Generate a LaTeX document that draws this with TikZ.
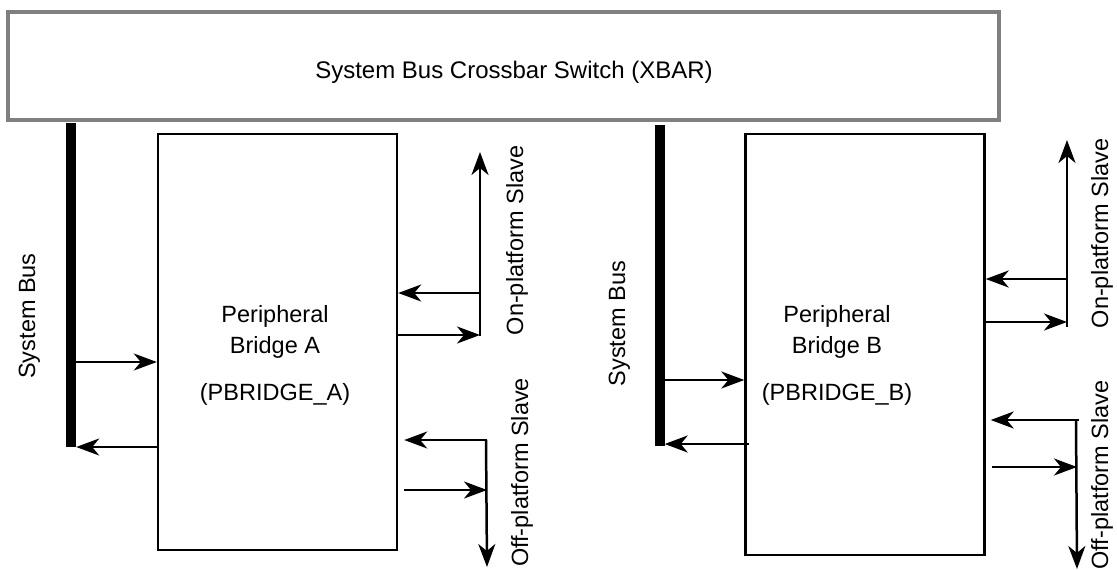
\documentclass[tikz,border=0pt]{standalone}
\usepackage{fontspec}
\setmainfont{Liberation Sans}
\usetikzlibrary{arrows.meta}
\begin{document}
\begin{tikzpicture}[x=1pt,y=-1pt,
  >={Stealth[length=23pt,width=17pt,inset=7pt]},
  lbl/.style={font=\fontsize{23.5}{28}\selectfont, inner sep=0pt, anchor=base},
  vlbl/.style={lbl, rotate=90},
  bridge/.style={draw, line width=2.4pt, minimum width=239pt, inner sep=0pt},
  bus/.style={fill=black, inner sep=0pt, minimum width=10pt},
  arr/.style={line width=2.5pt, ->}]
\useasboundingbox (0,0) rectangle (1117,570);
% crossbar
\node[draw=black!50, line width=4pt, minimum width=991pt, minimum height=108pt, inner sep=0pt] (xbar) at (503.5,66) {};
\node[lbl, font=\fontsize{24}{28}\selectfont] (xbart) at (514,78) {System Bus Crossbar Switch (XBAR)};
% buses
\node[bus, minimum height=324pt] (busA) at (71,285) {};
\node[bus, minimum height=321pt] (busB) at (659.5,285.5) {};
\node[vlbl] (busAl) at (35,316) {System Bus};
\node[vlbl] (busBl) at (625,323.5) {System Bus};
% bridges
\node[bridge, minimum height=416pt] (boxA) at (277.5,342) {};
\node[bridge, minimum height=421pt] (boxB) at (865,344.5) {};
\node[lbl] (a1) at (275,322) {Peripheral};
\node[lbl] (a2) at (275,353) {Bridge A};
\node[lbl] (a3) at (275,400) {(PBRIDGE\_A)};
\node[lbl] (b1) at (837,322) {Peripheral};
\node[lbl] (b2) at (837,353) {Bridge B};
\node[lbl] (b3) at (837,400) {(PBRIDGE\_B)};
% slave labels
\node[vlbl] (onA) at (523,240.5) {On-platform Slave};
\node[vlbl] (offA) at (528,472.5) {Off-platform Slave};
\node[vlbl] (onB) at (1108,233.5) {On-platform Slave};
\node[vlbl] (offB) at (1108,475) {Off-platform Slave};
% coordinates
\coordinate (onAtop) at (480,152);
\coordinate (onAbot) at (480,336);
\coordinate (offAtop) at (487,440);
\coordinate (offAbot) at (487,567);
\coordinate (onBtop) at (1067,140);
\coordinate (onBbot) at (1067,327);
\coordinate (offBtop) at (1077,420);
\coordinate (offBbot) at (1077,569);
% bus A arrows
\draw[arr] (busA.east |- 0,362) -- (boxA.west |- 0,362);
\draw[arr] (boxA.west |- 0,447) -- (busA.east |- 0,447);
% bus B arrows
\draw[arr] (busB.east |- 0,380) -- (boxB.west |- 0,380);
\draw[arr] ([xshift=5pt]boxB.west |- 0,444) -- (busB.east |- 0,444);
% on-platform A
\draw[arr] (onAbot) -- (onAtop);
\draw[arr] (onAbot |- 0,293) -- (boxA.east |- 0,293);
\draw[arr] (boxA.east |- 0,335) -- (onAbot |- 0,335);
% off-platform A
\draw[arr] ([xshift=-1pt]offAtop) -- (offAbot);
\draw[arr] (offAtop) -- ([xshift=6pt]boxA.east |- offAtop);
\draw[arr] ([xshift=6pt]boxA.east |- 0,490) -- (offAtop |- 0,490);
% on-platform B
\draw[arr] (onBbot) -- (onBtop);
\draw[arr] (onBbot |- 0,279) -- (boxB.east |- 0,279);
\draw[arr] (boxB.east |- 0,322) -- (onBbot |- 0,322);
% off-platform B
\draw[arr] ([xshift=-1pt]offBtop) -- (offBbot);
\draw[arr] ([xshift=2pt]offBtop) -- ([xshift=5pt]boxB.east |- offBtop);
\draw[arr] ([xshift=6pt]boxB.east |- 0,467) -- (offBtop |- 0,467);
\end{tikzpicture}
\end{document}
